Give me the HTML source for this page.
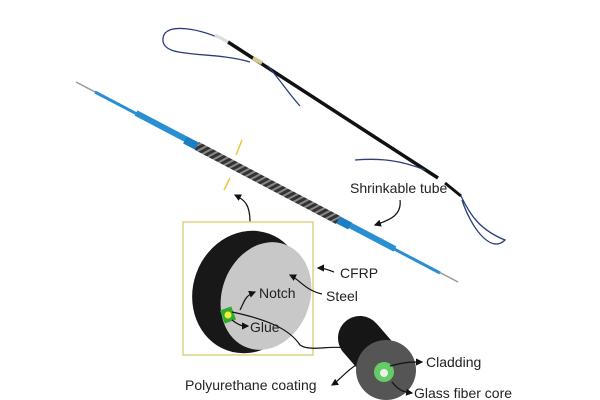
<!DOCTYPE html>
<html><head><style>
html,body{margin:0;padding:0;background:#fff;}
svg{display:block;}
text{font-family:"Liberation Sans",sans-serif;font-size:14px;fill:#222;}
</style></head><body>
<svg width="600" height="400" viewBox="0 0 600 400">
<defs>
<pattern id="br" width="5" height="5" patternUnits="userSpaceOnUse" patternTransform="rotate(62)">
<rect width="5" height="5" fill="#333"/><rect width="2" height="5" fill="#888"/></pattern>
<marker id="a" markerWidth="6" markerHeight="6" refX="5" refY="3" orient="auto"><path d="M0,0L6,3L0,6z" fill="#111"/></marker>
</defs>
<path d="M228,42 L438,178" stroke="#111" stroke-width="3.5"/>
<path d="M253,58 L262,63" stroke="#d8c890" stroke-width="4"/>
<path d="M445,183 L461,196" stroke="#111" stroke-width="3"/>
<path d="M228,42 C200,28 165,22 163,38 C160,60 210,50 250,62" stroke="#2a3f7a" fill="none" stroke-width="1.3"/>
<path d="M268,66 C280,80 290,95 300,106" stroke="#2a3f7a" fill="none" stroke-width="1.3"/>
<path d="M228,42 L215,35" stroke="#ddd" stroke-width="3"/>
<path d="M425,170 C400,160 380,158 355,160" stroke="#2a3f7a" fill="none" stroke-width="1.3"/>
<path d="M461,196 C470,215 480,230 505,240 C490,255 470,225 462,200" stroke="#2a3f7a" fill="none" stroke-width="1.3"/>
<path d="M76,82 L458,282" stroke="#999" stroke-width="1.5"/>
<path d="M95,92 L440,273" stroke="#2a8fd0" stroke-width="3"/>
<path d="M136,113 L395,249" stroke="#2a8fd0" stroke-width="6"/>
<path d="M185,140 L350,226" stroke="#1e7fc0" stroke-width="8"/>
<path d="M197,146 L338,220" stroke="url(#br)" stroke-width="9"/>
<path d="M242,140 L236,155 M230,178 L224,190" stroke="#e8c840" stroke-width="1.5"/>
<path d="M250,222 C250,205 245,200 235,195" stroke="#111" fill="none" stroke-width="1.2" marker-end="url(#a)"/>
<path d="M400,200 C402,215 390,220 375,225" stroke="#111" fill="none" stroke-width="1.2" marker-end="url(#a)"/>
<text x="350" y="193">Shrinkable tube</text>
<rect x="183" y="222" width="130" height="133" fill="none" stroke="#e0d080" stroke-width="1.5"/>
<ellipse cx="248" cy="292" rx="55" ry="62" transform="rotate(20 248 292)" fill="#181818"/>
<ellipse cx="266" cy="296" rx="44" ry="55" transform="rotate(20 266 296)" fill="#c8c8c8"/>
<rect x="222" y="308" width="12" height="14" fill="#3a3" transform="rotate(-20 228 315)"/>
<circle cx="228" cy="315" r="3.5" fill="#ee3"/>
<path d="M232,312 C270,320 290,330 300,345 C310,352 330,345 345,348" stroke="#111" fill="none" stroke-width="1.2"/>
<path d="M360,338 L386,368" stroke="#161616" stroke-width="44" stroke-linecap="round"/>
<circle cx="386" cy="370" r="30" fill="#555"/>
<circle cx="384" cy="372" r="10" fill="#6c6"/>
<circle cx="384" cy="373" r="4" fill="#eee"/>
<path d="M334,272 C328,270 325,268 318,268" stroke="#111" fill="none" stroke-width="1.2" marker-end="url(#a)"/>
<text x="340" y="278">CFRP</text>
<path d="M322,294 C305,290 300,280 290,275" stroke="#111" fill="none" stroke-width="1.2" marker-end="url(#a)"/>
<text x="326" y="301">Steel</text>
<path d="M240,310 C245,300 245,296 255,292" stroke="#111" fill="none" stroke-width="1.2" marker-end="url(#a)"/>
<text x="259" y="298">Notch</text>
<path d="M232,320 C240,326 242,326 248,326" stroke="#111" fill="none" stroke-width="1.2" marker-end="url(#a)"/>
<text x="250" y="332">Glue</text>
<path d="M390,366 C405,362 410,362 422,362" stroke="#111" fill="none" stroke-width="1.2" marker-end="url(#a)"/>
<text x="426" y="367">Cladding</text>
<path d="M356,365 C345,372 340,380 332,385" stroke="#111" fill="none" stroke-width="1.2" marker-end="url(#a)"/>
<text x="185" y="390">Polyurethane coating</text>
<path d="M392,382 C400,392 405,392 412,393" stroke="#111" fill="none" stroke-width="1.2" marker-end="url(#a)"/>
<text x="414" y="398">Glass fiber core</text>
</svg>
</body></html>
